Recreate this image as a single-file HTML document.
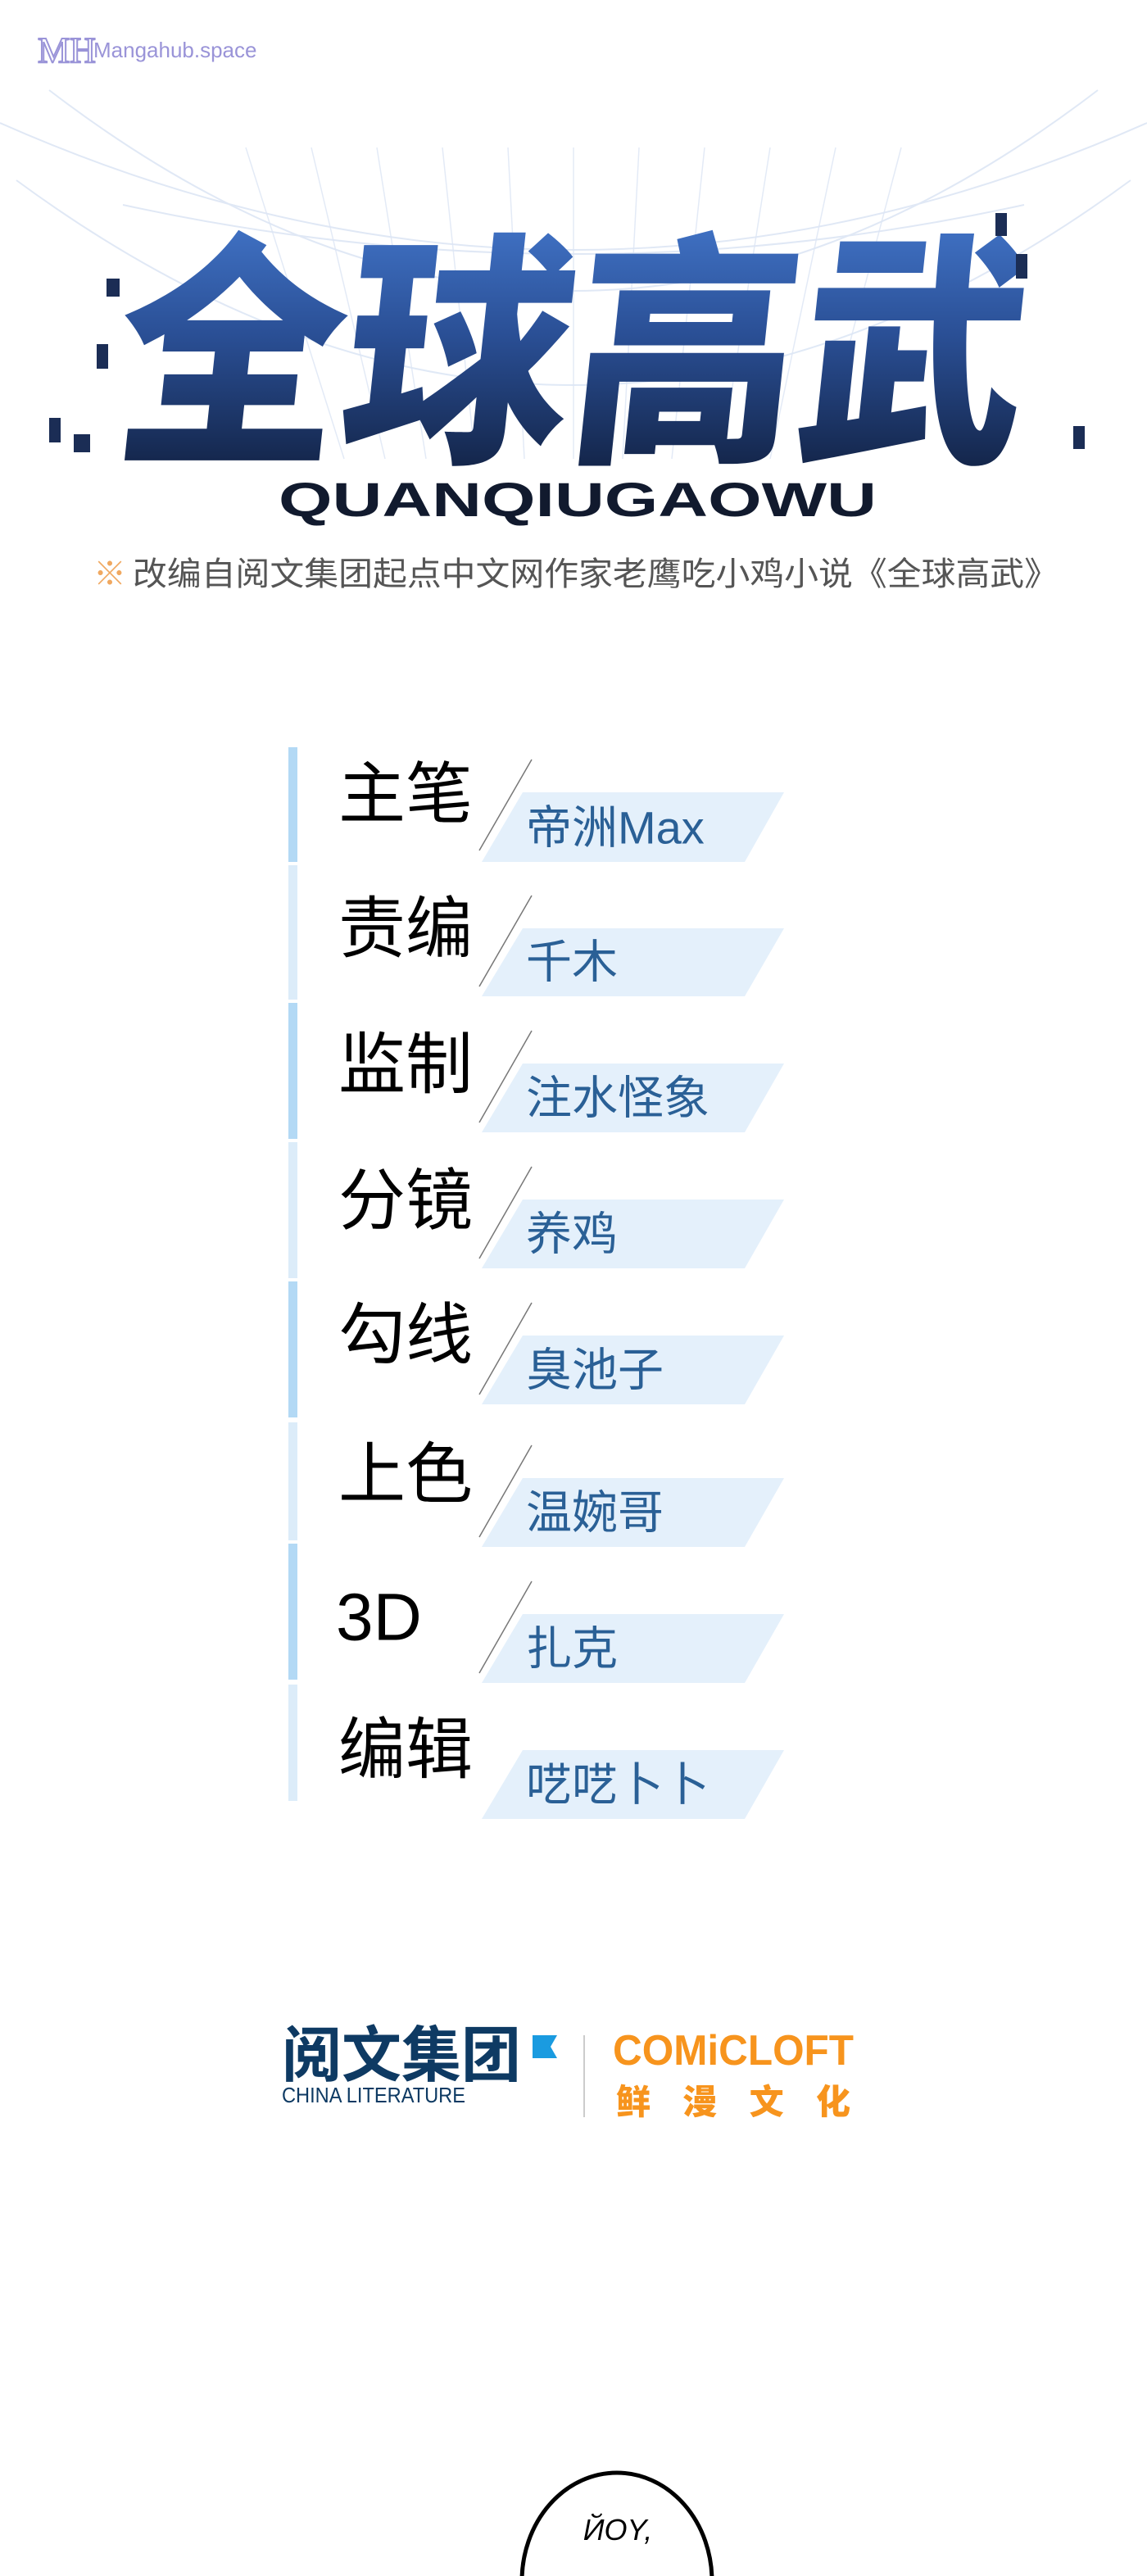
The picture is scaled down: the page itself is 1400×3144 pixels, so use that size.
<!DOCTYPE html>
<html><head><meta charset="utf-8"><style>
html,body{margin:0;padding:0;background:#fff;}
svg{display:block;}
</style></head><body>
<svg width="1400" height="3144" viewBox="0 0 1400 3144" xmlns="http://www.w3.org/2000/svg" font-family="'Liberation Sans','Noto Sans CJK SC',sans-serif">
<defs>
<linearGradient id="tg" x1="0" y1="0" x2="0" y2="1">
<stop offset="0" stop-color="#4d86e0"/><stop offset="0.5" stop-color="#2a4f95"/><stop offset="1" stop-color="#0c1730"/>
</linearGradient>
</defs>
<rect width="1400" height="3144" fill="#fff"/>
<!-- globe lines -->
<g fill="none" stroke="#d3dff2" stroke-width="2" opacity="0.7">
<path d="M0 150 Q700 460 1400 150"/>
<path d="M60 110 Q700 600 1340 110"/>
<path d="M150 250 Q700 370 1250 250"/>
<path d="M20 220 Q700 720 1380 220"/>
</g>
<g stroke="#dde6f5" stroke-width="1.5" opacity="0.8">
<line x1="300" y1="180" x2="420" y2="560"/><line x1="380" y1="180" x2="470" y2="560"/>
<line x1="460" y1="180" x2="520" y2="560"/><line x1="540" y1="180" x2="580" y2="560"/>
<line x1="620" y1="180" x2="640" y2="560"/><line x1="700" y1="180" x2="700" y2="560"/>
<line x1="780" y1="180" x2="760" y2="560"/><line x1="860" y1="180" x2="820" y2="560"/>
<line x1="940" y1="180" x2="880" y2="560"/><line x1="1020" y1="180" x2="940" y2="560"/>
<line x1="1100" y1="180" x2="1000" y2="560"/>
</g>
<!-- watermark -->
<text x="46" y="76" font-family="'Liberation Serif',serif" font-size="44" fill="none" stroke="#9a94d8" stroke-width="2">MH</text>
<text x="114" y="70" font-size="26" fill="#9a94d8">Mangahub.space</text>
<!-- title -->
<g transform="skewX(-6)">
<text x="190" y="540" font-family="'Noto Sans CJK SC',sans-serif" font-weight="900" font-size="300" fill="url(#tg)" textLength="1110" lengthAdjust="spacingAndGlyphs">全球高武</text>
</g>
<g fill="#1b2d55">
<rect x="130" y="340" width="16" height="22"/><rect x="118" y="420" width="14" height="30"/>
<rect x="60" y="510" width="14" height="30"/><rect x="90" y="530" width="20" height="22"/>
<rect x="1215" y="260" width="14" height="28"/><rect x="1240" y="310" width="14" height="30"/>
<rect x="1310" y="520" width="14" height="28"/>
</g>
<text x="340" y="630" font-weight="bold" font-size="58" fill="#111a2e" textLength="730" lengthAdjust="spacingAndGlyphs">QUANQIUGAOWU</text>
<!-- subtitle -->
<text x="114" y="714" font-size="40" fill="#f0a860">※</text>
<text x="162" y="714" font-size="40" fill="#555" textLength="1130" lengthAdjust="spacingAndGlyphs">改编自阅文集团起点中文网作家老鹰吃小鸡小说《全球高武》</text>
<!-- credit bars -->
<g>
<rect x="352" y="912" width="11" height="140" fill="#b3d9f5"/>
<rect x="352" y="1056" width="11" height="164" fill="#dcecf9"/>
<rect x="352" y="1224" width="11" height="166" fill="#b3d9f5"/>
<rect x="352" y="1394" width="11" height="166" fill="#dcecf9"/>
<rect x="352" y="1564" width="11" height="166" fill="#b3d9f5"/>
<rect x="352" y="1736" width="11" height="144" fill="#dcecf9"/>
<rect x="352" y="1884" width="11" height="166" fill="#b3d9f5"/>
<rect x="352" y="2056" width="11" height="142" fill="#dcecf9"/>
</g>
<g font-family="'Liberation Sans','Noto Sans CJK SC',sans-serif" dominant-baseline="central">
<polygon points="638,967 957,967 909,1052 588,1052" fill="#e4f0fb"/>
<line x1="649" y1="927" x2="585" y2="1038" stroke="#777" stroke-width="1.5"/>
<text x="413" y="970" font-size="82" fill="#000">主笔</text>
<text x="642" y="1010" font-size="56" fill="#2a6096">帝洲Max</text>

<polygon points="638,1133 957,1133 909,1216 588,1216" fill="#e4f0fb"/>
<line x1="649" y1="1093" x2="585" y2="1204" stroke="#777" stroke-width="1.5"/>
<text x="413" y="1134" font-size="82" fill="#000">责编</text>
<text x="642" y="1174" font-size="56" fill="#2a6096">千木</text>

<polygon points="638,1298 957,1298 909,1382 588,1382" fill="#e4f0fb"/>
<line x1="649" y1="1258" x2="585" y2="1370" stroke="#777" stroke-width="1.5"/>
<text x="413" y="1300" font-size="82" fill="#000">监制</text>
<text x="642" y="1340" font-size="56" fill="#2a6096">注水怪象</text>

<polygon points="638,1464 957,1464 909,1548 588,1548" fill="#e4f0fb"/>
<line x1="649" y1="1424" x2="585" y2="1536" stroke="#777" stroke-width="1.5"/>
<text x="413" y="1466" font-size="82" fill="#000">分镜</text>
<text x="642" y="1506" font-size="56" fill="#2a6096">养鸡</text>

<polygon points="638,1630 957,1630 909,1714 588,1714" fill="#e4f0fb"/>
<line x1="649" y1="1590" x2="585" y2="1702" stroke="#777" stroke-width="1.5"/>
<text x="413" y="1630" font-size="82" fill="#000">勾线</text>
<text x="642" y="1672" font-size="56" fill="#2a6096">臭池子</text>

<polygon points="638,1804 957,1804 909,1888 588,1888" fill="#e4f0fb"/>
<line x1="649" y1="1764" x2="585" y2="1876" stroke="#777" stroke-width="1.5"/>
<text x="413" y="1800" font-size="82" fill="#000">上色</text>
<text x="642" y="1846" font-size="56" fill="#2a6096">温婉哥</text>

<polygon points="638,1970 957,1970 909,2054 588,2054" fill="#e4f0fb"/>
<line x1="649" y1="1930" x2="585" y2="2042" stroke="#777" stroke-width="1.5"/>
<text x="410" y="1974" font-size="82" fill="#000">3D</text>
<text x="642" y="2012" font-size="56" fill="#2a6096">扎克</text>

<polygon points="638,2136 957,2136 909,2220 588,2220" fill="#e4f0fb"/>
<text x="413" y="2136" font-size="82" fill="#000">编辑</text>
<text x="642" y="2178" font-size="56" fill="#2a6096">呓呓卜卜</text>
</g>
<!-- logos -->
<text x="344" y="2534" font-family="'Noto Sans CJK SC',sans-serif" font-weight="bold" font-size="74" fill="#0e3a63" textLength="292" lengthAdjust="spacingAndGlyphs">阅文集团</text>
<polygon points="650,2484 680,2484 672,2498 680,2512 650,2512" fill="#1a9be0"/>
<text x="344" y="2566" font-size="26" fill="#0e3a63" textLength="224" lengthAdjust="spacingAndGlyphs">CHINA LITERATURE</text>
<line x1="713" y1="2484" x2="713" y2="2584" stroke="#ccc" stroke-width="2"/>
<text x="748" y="2520" font-weight="bold" font-size="52" fill="#f7941d" textLength="294" lengthAdjust="spacingAndGlyphs">COMiCLOFT</text>
<text x="752" y="2580" font-family="'Noto Sans CJK SC',sans-serif" font-weight="900" font-size="42" fill="#f7941d" textLength="286" lengthAdjust="spacing">鲜漫文化</text>
<!-- speech bubble -->
<ellipse cx="753" cy="3150" rx="116" ry="132" fill="#fff" stroke="#000" stroke-width="5"/>
<text x="754" y="3100" text-anchor="middle" font-style="italic" font-size="36" fill="#000">ЙOY,</text>
</svg>
</body></html>
